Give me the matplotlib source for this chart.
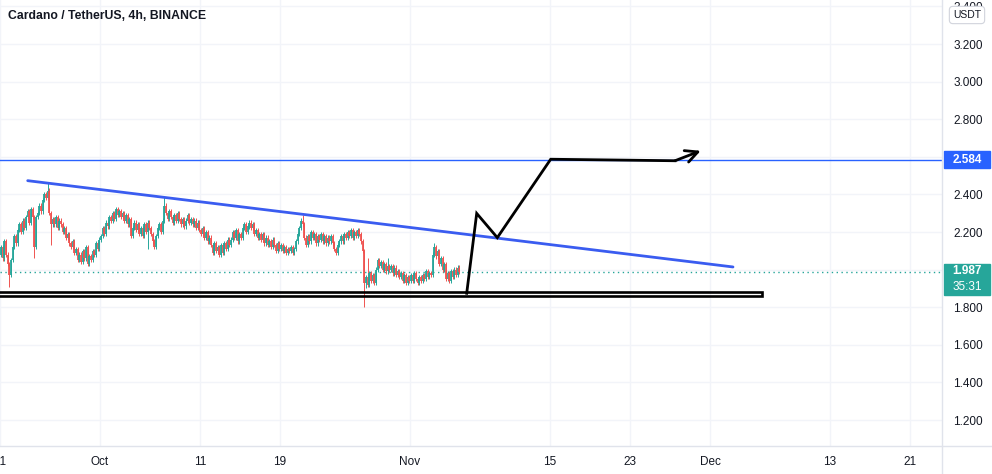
import matplotlib
matplotlib.use("Agg")
import matplotlib.pyplot as plt
import matplotlib.transforms as mtransforms
from matplotlib.patches import Rectangle
from matplotlib.lines import Line2D

plt.rcParams["font.family"] = ["Liberation Sans", "DejaVu Sans"]

# 4h closes, six per day, starting Sep 21 (day 0)
CLOSES = [
    2.12, 2.06, 2.15, 2.08, 2.03, 1.97,   # Sep 21
    2.05, 2.12, 2.18, 2.14, 2.21, 2.24,
    2.20, 2.26, 2.22, 2.28, 2.31, 2.25,
    2.32, 2.28, 2.12, 2.28, 2.30, 2.34,
    2.31, 2.37, 2.40, 2.38, 2.42, 2.30,
    2.24, 2.27, 2.24, 2.28, 2.22, 2.26,
    2.24, 2.20, 2.22, 2.17, 2.19, 2.14,
    2.12, 2.15, 2.09, 2.11, 2.05, 2.08,
    2.04, 2.10, 2.06, 2.12, 2.03, 2.07,
    2.05, 2.10, 2.08, 2.14, 2.11, 2.16,
    2.18, 2.22, 2.19, 2.25, 2.23, 2.28,   # Oct 1
    2.26, 2.30, 2.27, 2.32, 2.29, 2.31,
    2.28, 2.30, 2.26, 2.29, 2.24, 2.27,
    2.18, 2.22, 2.25, 2.21, 2.24, 2.19,
    2.22, 2.18, 2.24, 2.20, 2.25, 2.22,
    2.19, 2.15, 2.12, 2.18, 2.22, 2.24,
    2.20, 2.26, 2.34, 2.30, 2.27, 2.31,
    2.28, 2.25, 2.29, 2.26, 2.30, 2.27,
    2.24, 2.27, 2.23, 2.26, 2.29, 2.25,
    2.27, 2.24, 2.26, 2.22, 2.25, 2.21,
    2.19, 2.22, 2.17, 2.20, 2.15, 2.17,   # Oct 11
    2.13, 2.09, 2.14, 2.10, 2.12, 2.08,
    2.13, 2.09, 2.14, 2.11, 2.16, 2.13,
    2.16, 2.20, 2.17, 2.21, 2.15, 2.19,
    2.17, 2.22, 2.24, 2.20, 2.23, 2.25,
    2.22, 2.24, 2.19, 2.21, 2.17, 2.19,
    2.16, 2.19, 2.14, 2.17, 2.13, 2.15,
    2.12, 2.16, 2.13, 2.10, 2.14, 2.11,
    2.13, 2.10, 2.12, 2.09, 2.11, 2.10,   # Oct 19
    2.12, 2.09, 2.11, 2.15, 2.19, 2.22,
    2.26, 2.24, 2.17, 2.13, 2.18, 2.15,
    2.20, 2.17, 2.19, 2.14, 2.18, 2.16,
    2.19, 2.15, 2.18, 2.14, 2.17, 2.15,
    2.18, 2.14, 2.11, 2.09, 2.13, 2.15,
    2.18, 2.15, 2.19, 2.17, 2.20, 2.18,
    2.21, 2.17, 2.20, 2.18, 2.21, 2.19,
    2.15, 2.10, 1.93, 1.96, 1.92, 1.98,
    1.94, 1.97, 1.93, 2.00, 2.05, 2.02,
    2.04, 2.00, 2.03, 1.99, 2.02, 2.00,
    2.02, 1.98, 2.01, 1.97, 1.99, 1.96,
    1.98, 1.94, 1.97, 1.93, 1.96, 1.94,
    1.97, 1.94, 1.98, 1.95, 1.93, 1.96,   # Nov 1
    1.94, 1.97, 1.95, 1.99, 1.96, 1.98,
    1.97, 2.08, 2.12, 2.07, 2.10, 2.03,
    2.06, 2.00, 2.03, 1.95, 1.98, 1.94,
    1.99, 1.96, 2.00, 1.97, 2.01, 1.987,
]
FIRST_OPEN = 2.08
# notable wick extremes: candle index -> price
HIGHS = {28: 2.46, 98: 2.385, 181: 2.29, 260: 2.14, 220: 2.06, 232: 2.06}
LOWS = {5: 1.905, 20: 2.06, 30: 2.13, 218: 1.80, 219: 1.90, 88: 2.11}

LAST_PRICE = 1.987
TIMER = "35:31"
TARGET = 2.584

TREND_X = [2.77, 73.3]
TREND_Y = [2.473, 2.014]
SUPPORT_X = [-1.0, 76.2]
SUPPORT_Y = [1.862, 1.881]
PATH_X = [46.67, 47.67, 49.73, 55.07, 67.5]
PATH_Y = [1.874, 2.299, 2.170, 2.587, 2.579]
ARROW_TIP = (70.07, 2.632)

Y_TICKS = [1.2, 1.4, 1.6, 1.8, 2.0, 2.2, 2.4, 2.6, 2.8, 3.0, 3.2, 3.4]
Y_SHOWN = [1.2, 1.4, 1.6, 1.8, 2.2, 2.4, 2.8, 3.0, 3.2, 3.4]
X_TICKS = [0, 10, 20, 28, 41, 55, 63, 71, 83, 91]
X_LABELS = ["21", "Oct", "11", "19", "Nov", "15", "23", "Dec", "13", "21"]

UP = "#26a69a"
DOWN = "#ef5350"
BLUE = "#2962ff"
GRID = "#f2f4f9"
BORDER = "#e0e3eb"
TEXT = "#131722"

W, H = 992, 474
fig = plt.figure(figsize=(W / 100, H / 100), dpi=100)
ax = fig.add_axes([0, (H - 446) / H, 942 / W, 446 / H])
ax.set_xlim(0, 94.2)
ax.set_ylim(3.2 - (446 - 44) / 188, 3.2 + 44 / 188)

# grid
for t in Y_TICKS:
    ax.axhline(t, color=GRID, lw=1, zorder=0)
for t in X_TICKS:
    ax.axvline(t, color=GRID, lw=1, zorder=0)

# candles
opens = [FIRST_OPEN] + CLOSES[:-1]
xs = [i / 6 + 1 / 12 for i in range(len(CLOSES))]
for i, (x, o, c) in enumerate(zip(xs, opens, CLOSES)):
    col = UP if c >= o else DOWN
    hi = HIGHS.get(i, max(o, c) + 0.012)
    lo = LOWS.get(i, min(o, c) - 0.012)
    ax.vlines(x, lo, hi, color=col, lw=0.7, zorder=2)
    bot, top = min(o, c), max(o, c)
    if top - bot < 0.004:
        top = bot + 0.004
    ax.vlines(x, bot, top, color=col, lw=1.3, zorder=2)

# last price dotted line
ax.axhline(LAST_PRICE, color=UP, lw=1, ls=(0, (1, 2.5)), zorder=1)
# target horizontal
ax.axhline(TARGET, color=BLUE, lw=1, zorder=3)
# descending trendline
ax.plot(TREND_X, TREND_Y, color="#3a5cf0", lw=2, solid_capstyle="round", zorder=4)
# support rectangle (double line)
ax.add_patch(Rectangle((SUPPORT_X[0], SUPPORT_Y[0]), SUPPORT_X[1] - SUPPORT_X[0],
                       SUPPORT_Y[1] - SUPPORT_Y[0], fill=False, edgecolor="black",
                       lw=1.9, zorder=5))
# projected path
ax.plot(PATH_X, PATH_Y, color="black", lw=2, solid_joinstyle="miter", zorder=6)
ax.annotate("", xy=ARROW_TIP, xytext=(PATH_X[-1], PATH_Y[-1]),
            arrowprops=dict(arrowstyle="->", color="black", lw=2,
                            mutation_scale=22, shrinkA=0, shrinkB=0), zorder=6)

# axes styling
for s in ax.spines.values():
    s.set_visible(False)
ax.yaxis.tick_right()
ax.set_yticks(Y_SHOWN)
ax.set_yticklabels([f"{v:.3f}" for v in Y_SHOWN])
ax.set_xticks(X_TICKS)
ax.set_xticklabels(X_LABELS)
ax.tick_params(axis="y", length=0, pad=8, labelsize=8.5, labelcolor=TEXT)
ax.tick_params(axis="x", length=0, pad=7, labelsize=8.5, labelcolor=TEXT)

fig.add_artist(Line2D([942 / W, 942 / W], [0, 1], color=BORDER, lw=1))
fig.add_artist(Line2D([0, 1], [(H - 446) / H, (H - 446) / H], color=BORDER, lw=1))

# price labels on axis
blend = mtransforms.blended_transform_factory(ax.transAxes, ax.transData)
bw = 46 / 942
ax.add_patch(Rectangle((944 / 942, TARGET - 8.5 / 188), bw, 17 / 188, color=BLUE,
                       transform=blend, clip_on=False, zorder=10))
ax.text(967 / 942, TARGET, f"{TARGET:.3f}", transform=blend, ha="center", va="center",
        color="white", fontsize=8.5, fontweight="bold", clip_on=False, zorder=11)
ax.add_patch(Rectangle((944 / 942, 3.2 - (295 - 44) / 188), bw, 31 / 188, color=UP,
                       transform=blend, clip_on=False, zorder=10))
ax.text(967 / 942, 3.2 - (271 - 44) / 188, f"{LAST_PRICE:.3f}", transform=blend,
        ha="center", va="center", color="white", fontsize=8.5, fontweight="bold",
        clip_on=False, zorder=11)
ax.text(967 / 942, 3.2 - (287 - 44) / 188, TIMER, transform=blend,
        ha="center", va="center", color="white", fontsize=8.5, clip_on=False, zorder=11)

fig.text(967 / W, 1 - 15 / H, "USDT", ha="center", va="center", fontsize=7.5, color=TEXT,
         bbox=dict(boxstyle="round,pad=0.35", fc="white", ec="#d1d4dc", lw=0.8))

fig.text(8 / W, 1 - 16 / H, "Cardano / TetherUS, 4h, BINANCE", ha="left", va="center",
         fontsize=8.8, fontweight="bold", color=TEXT)

fig.savefig("out.png", dpi=100)
